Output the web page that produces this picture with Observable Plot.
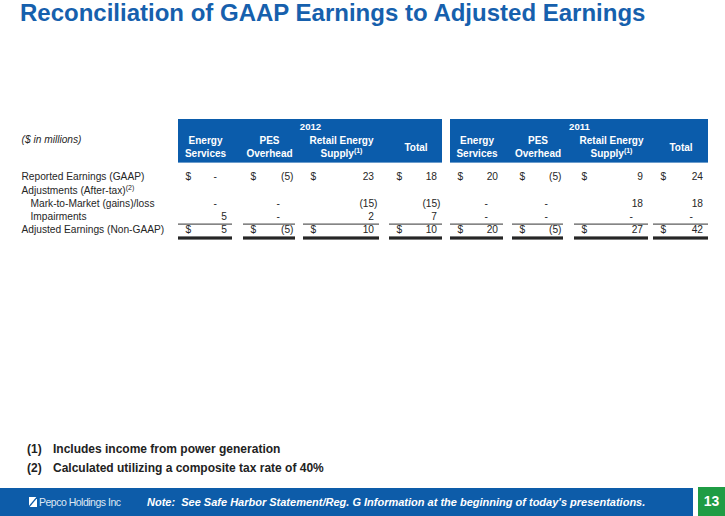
<!DOCTYPE html>
<html>
<head>
<meta charset="utf-8">
<script src="https://cdn.jsdelivr.net/npm/d3@7"></script>
<script src="https://cdn.jsdelivr.net/npm/@observablehq/plot@0.6"></script>
<style>
  html, body { margin: 0; padding: 0; background: #ffffff; }
  body { width: 725px; height: 516px; position: relative; overflow: hidden;
         font-family: "Liberation Sans", Arial, Helvetica, sans-serif; }
  #title { position: absolute; left: 20px; top: -1px; font-size: 24px; font-weight: bold;
           color: #1660ad; line-height: 28px; white-space: nowrap; }
  #table { position: absolute; left: 0; top: 110px; }
  .fn { position: absolute; font-size: 12px; font-weight: bold; color: #222; line-height: 18px; white-space: nowrap; }
  #footer { position: absolute; left: 0; top: 488px; width: 693px; height: 28px; background: #0d5ca9; }
  #pagenum { position: absolute; left: 698px; top: 487px; width: 27px; height: 29px; background: #1f9c44;
             color: #fff; font-weight: bold; font-size: 14px; line-height: 29px; text-align: center; }
  #logoicon { position: absolute; left: 29px; top: 497px; width: 8px; height: 10px; }
  #logotext { position: absolute; left: 39px; top: 495px; font-size: 10.5px; color: #dfe8f4;
              letter-spacing: -0.5px; line-height: 14px; white-space: nowrap; font-weight: 300; }
  #note { position: absolute; left: 147px; top: 495px; font-size: 11px; font-weight: bold; font-style: italic;
          color: #fff; line-height: 14px; white-space: pre; }
</style>
</head>
<body>
<div id="title"></div>
<div id="table"></div>
<div id="fn"></div>
<div id="footer"></div>
<svg id="logoicon" viewBox="0 0 8 10"><rect width="8" height="10" fill="#ffffff"/><line x1="-1" y1="11" x2="9" y2="-1" stroke="#0d5ca9" stroke-width="1.3"/></svg>
<div id="logotext"></div>
<div id="note"></div>
<div id="pagenum"></div>
<script>
// ---------------- data ----------------
const titleText = "Reconciliation of GAAP Earnings to Adjusted Earnings";
const unitsLabel = "($ in millions)";
const years = ["2012", "2011"];
const segments = ["Energy Services", "PES Overhead", "Retail Energy Supply", "Total"];
const segmentHeaderLines = [["Energy", "Services"], ["PES", "Overhead"], ["Retail Energy", "Supply^(1)"], ["Total"]];
const rowLabels = ["Reported Earnings (GAAP)", "Adjustments (After-tax)^(2)", "Mark-to-Market (gains)/loss", "Impairments", "Adjusted Earnings (Non-GAAP)"];
const reported2012 = [0, -5, 23, 18];
const markToMarket2012 = [0, 0, -15, -15];
const impairments2012 = [5, 0, 2, 7];
const adjusted2012 = [5, -5, 10, 10];
const reported2011 = [20, -5, 9, 24];
const markToMarket2011 = [0, 0, 18, 18];
const impairments2011 = [0, 0, 0, 0];
const adjusted2011 = [20, -5, 27, 42];
const footnoteMarks = ["(1)", "(2)"];
const footnotes = ["Includes income from power generation", "Calculated utilizing a composite tax rate of 40%"];
const companyName = "Pepco Holdings Inc";
const noteText = "Note:  See Safe Harbor Statement/Reg. G Information at the beginning of today's presentations.";
const pageNumber = "13";

// ---------------- layout / style ----------------
const BLUE = "#0b5cab";
const INK = "#262626";
const FONT = "'Liberation Sans', Arial, Helvetica, sans-serif";
const L = {
  top: 110, height: 140,
  colEdges: [[178, 232], [243, 295], [303, 379], [389, 442], [450, 503], [512, 563], [574, 648], [653, 708]],
  headerTop: 119, headerBottom: 162.6,
  yearBaseline: 129.3, headerLine1: 143, headerLine2: 156.5, headerSingle: 150,
  unitsBaseline: 142.5,
  rowBaselines: [179.3, 193, 206.5, 219.6, 232.8],
  labelX: 21, indentX: 30, indentRows: [2, 3],
  dollarRows: [0, 4], dollarInset: 7, parenInset: 2, posShift: 3.5, dashShift: 13.5,
  singleRuleY: 223.6, barTop: 236.4, barBottom: 239.6,
  fnLeftMark: 27, fnLeftText: 53, fnTops: [440, 458.5]
};

// ---------------- derived tables ----------------
const seriesByYear = {
  "2012": [reported2012, null, markToMarket2012, impairments2012, adjusted2012],
  "2011": [reported2011, null, markToMarket2011, impairments2011, adjusted2011]
};
const cells = [];
years.forEach((yr, yi) => segments.forEach((seg, si) => seriesByYear[yr].forEach((vals, ri) => {
  if (vals) cells.push({year: yr, segment: seg, col: yi * 4 + si, row: ri, value: vals[si]});
})));
const dollarCells = cells.filter(c => L.dollarRows.includes(c.row));
const columns = years.flatMap((yr, yi) => segments.map((seg, si) => ({year: yr, segment: seg, col: yi * 4 + si, lines: segmentHeaderLines[si]})));
const headerTexts = columns.flatMap(c => c.lines.map((t, li) => ({col: c.col, text: t,
  y: c.lines.length === 1 ? L.headerSingle : (li === 0 ? L.headerLine1 : L.headerLine2)})));
const rowsTable = rowLabels.map((label, ri) => ({label, row: ri}));

const fmt = v => v === 0 ? "-" : v < 0 ? `(${Math.abs(v)})` : `${v}`;
const colMid = c => (L.colEdges[c][0] + L.colEdges[c][1]) / 2;
const valueX = d => {
  const pr = L.colEdges[d.col][1] - L.parenInset;
  return d.value < 0 ? pr : d.value === 0 ? pr - L.dashShift : pr - L.posShift;
};

const body = {fontFamily: FONT, fontSize: 10.2, fill: INK, lineAnchor: "bottom"};
const head = {fontFamily: FONT, fontSize: 10, fontWeight: "bold", fill: "#ffffff", lineAnchor: "bottom"};

const chart = Plot.plot({
  width: 725, height: L.height, margin: 0,
  x: {domain: [0, 725], range: [0, 725], axis: null},
  y: {domain: [L.top, L.top + L.height], range: [0, L.height], axis: null},
  style: {fontFamily: FONT, background: "transparent", overflow: "visible"},
  marks: [
    Plot.rect(years, {x1: (d, i) => L.colEdges[i * 4][0], x2: (d, i) => L.colEdges[i * 4 + 3][1],
      y1: L.headerTop, y2: L.headerBottom, fill: BLUE}),
    Plot.text(years, {...head, fontSize: 9.6, ariaLabel: "year header", x: (d, i) => (L.colEdges[i * 4][0] + L.colEdges[i * 4 + 3][1]) / 2,
      y: L.yearBaseline, text: d => d}),
    Plot.text(headerTexts, {...head, ariaLabel: "column header", x: d => colMid(d.col), y: d => d.y, text: "text"}),
    Plot.text([unitsLabel], {...body, fontStyle: "italic", textAnchor: "start", x: L.labelX, y: L.unitsBaseline, text: d => d}),
    Plot.text(rowsTable, {...body, ariaLabel: "row label", textAnchor: "start",
      x: d => L.indentRows.includes(d.row) ? L.indentX : L.labelX, y: d => L.rowBaselines[d.row], text: "label"}),
    Plot.text(dollarCells, {...body, textAnchor: "start", x: d => L.colEdges[d.col][0] + L.dollarInset,
      y: d => L.rowBaselines[d.row], text: () => "$"}),
    Plot.text(cells, {...body, textAnchor: "end", x: valueX, y: d => L.rowBaselines[d.row], text: d => fmt(d.value)}),
    Plot.ruleY(columns, {y: L.singleRuleY, x1: d => L.colEdges[d.col][0], x2: d => L.colEdges[d.col][1], stroke: "#333", strokeWidth: 1}),
    Plot.rect(columns, {x1: d => L.colEdges[d.col][0], x2: d => L.colEdges[d.col][1], y1: L.barTop, y2: L.barBottom, fill: "#262626"})
  ]
});

// superscripts and header letter-spacing
chart.querySelectorAll("text").forEach(t => {
  if (!t.textContent.includes("^")) return;
  const target = t.querySelector("tspan:last-of-type") && t.textContent.includes("\n") ? t.querySelector("tspan:last-of-type") : t;
  const [a, b] = target.textContent.split("^");
  target.textContent = a;
  const sup = document.createElementNS("http://www.w3.org/2000/svg", "tspan");
  sup.setAttribute("dy", "-4");
  sup.setAttribute("font-size", "7px");
  sup.textContent = b;
  target.appendChild(sup);
});
chart.querySelectorAll('g[aria-label="column header"] text, g[aria-label="year header"] text').forEach(t => {
  t.style.letterSpacing = "0.25px";
});
document.getElementById("table").appendChild(chart);

// ---------------- surrounding text ----------------
document.getElementById("title").textContent = titleText;
const fn = document.getElementById("fn");
footnotes.forEach((f, i) => {
  const m = document.createElement("div");
  m.className = "fn"; m.style.left = L.fnLeftMark + "px"; m.style.top = L.fnTops[i] + "px"; m.textContent = footnoteMarks[i];
  const t = document.createElement("div");
  t.className = "fn"; t.style.left = L.fnLeftText + "px"; t.style.top = L.fnTops[i] + "px"; t.textContent = f;
  fn.appendChild(m); fn.appendChild(t);
});
document.getElementById("logotext").textContent = companyName;
document.getElementById("note").textContent = noteText;
document.getElementById("pagenum").textContent = pageNumber;
</script>
</body>
</html>
